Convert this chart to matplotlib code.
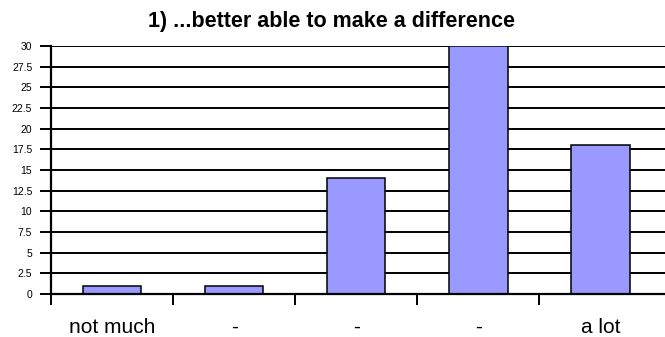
import matplotlib
matplotlib.use("Agg")
import matplotlib.pyplot as plt
import numpy as np

# Responses per answer option
categories = ["not much", "-", "-", "-", "a lot"]
counts = [1, 1, 14, 30, 18]
y_ticks = [0, 2.5, 5, 7.5, 10, 12.5, 15, 17.5, 20, 22.5, 25, 27.5, 30]
y_tick_labels = ["0", "2.5", "5", "7.5", "10", "12.5", "15", "17.5", "20",
                 "22.5", "25", "27.5", "30"]
title = "1) ...better able to make a difference"

plt.rcParams["font.family"] = ["Liberation Sans", "DejaVu Sans"]

fig = plt.figure(figsize=(6.65, 3.37), dpi=100)
ax = fig.add_axes([51 / 665, 1 - 294 / 337, (665 - 51) / 665, (294 - 46) / 337])

x = np.arange(len(categories))
ax.bar(x, counts, width=0.48, color="#9999FF", edgecolor="black",
       linewidth=1.1, zorder=3)

# the plot area runs slightly past the last category to the figure edge
ax.set_xlim(-0.5, len(categories) - 0.47)
ax.set_ylim(0, 30)

# horizontal gridlines
for v in y_ticks[1:]:
    ax.axhline(v, color="black", linewidth=1.4, zorder=1)

ax.set_yticks(y_ticks)
ax.set_yticklabels(y_tick_labels, fontsize=7.5)
ax.tick_params(axis="y", direction="out", length=8, width=1.4, pad=5.5)

# category labels centred, tick marks at category boundaries
ax.set_xticks(x)
ax.set_xticklabels(categories, fontsize=15)
ax.set_xticks(np.arange(-0.5, len(categories) - 0.5, 1), minor=True)
ax.tick_params(axis="x", which="major", length=0, pad=17)
ax.tick_params(axis="x", which="minor", direction="out", length=8, width=1.4)

for side in ("top", "right"):
    ax.spines[side].set_visible(False)
for side in ("left", "bottom"):
    ax.spines[side].set_linewidth(1.6)
    ax.spines[side].set_zorder(4)

fig.text(332 / 665, 1 - 21 / 337, title, ha="center", va="center",
         fontsize=15.5, fontweight="bold")

fig.savefig("out.png", dpi=100)
